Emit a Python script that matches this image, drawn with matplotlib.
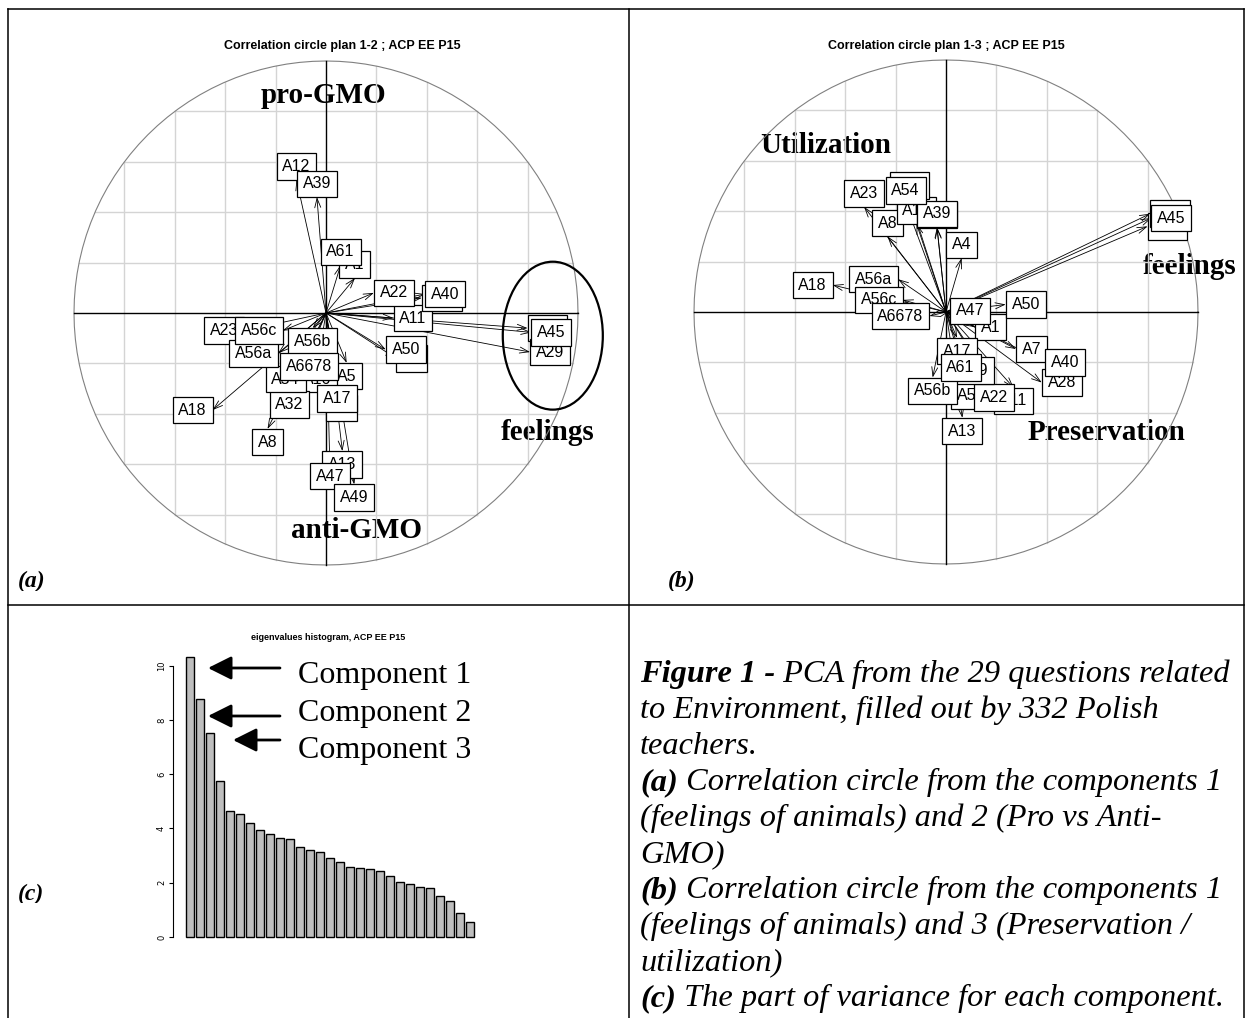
import numpy as np
import matplotlib.pyplot as plt
from matplotlib.patches import Ellipse
from matplotlib.path import Path
from matplotlib.transforms import Bbox

W, H = 1247, 1018

# questionnaire items, in the order R draws them
names = ["A1", "A4", "A5", "A7", "A8", "A10", "A11", "A12", "A13", "A16",
         "A17", "A18", "A22", "A23", "A28", "A29", "A32", "A39", "A40", "A45",
         "A47", "A49", "A50", "A54", "A56a", "A56b", "A56c", "A61", "A6678"]
# correlations of the items with components 1, 2 and 3
comp1 = [0.115, 0.062, 0.082, 0.278, -0.232, 0.80, 0.268, -0.117, 0.065, -0.035,
         0.044, -0.45, 0.19, -0.325, 0.38, 0.81, -0.145, -0.036, 0.393, 0.815,
         0.015, 0.112, 0.237, -0.16, -0.19, -0.053, -0.172, 0.058, -0.066]
comp2 = [0.139, -0.325, -0.198, -0.18, -0.46, -0.06, -0.02, 0.528, -0.548, -0.21,
         -0.286, -0.385, 0.08, -0.07, 0.06, -0.155, -0.31, 0.46, 0.075, -0.077,
         -0.595, -0.68, -0.145, -0.21, -0.16, -0.06, -0.07, 0.19, -0.16]
comp3 = [-0.06, 0.214, -0.28, -0.147, 0.30, 0.34, -0.30, 0.35, -0.42, 0.333,
         -0.103, 0.107, -0.286, 0.417, -0.28, 0.39, 0.45, 0.337, -0.20, 0.373,
         0.004, -0.18, 0.03, 0.43, 0.13, -0.26, 0.048, -0.167, -0.016]

# eigenvalues (% of variance)
eig_pct = [10.30, 8.77, 7.53, 5.76, 4.65, 4.53, 4.21, 3.94, 3.79, 3.63,
           3.60, 3.30, 3.20, 3.14, 2.90, 2.77, 2.59, 2.53, 2.49, 2.44,
           2.25, 2.04, 1.95, 1.85, 1.79, 1.51, 1.34, 0.87, 0.55]
eig_ticks = [0, 2, 4, 6, 8, 10]

caption = [
    [("Figure 1 -", "bold"), (" PCA from the 29 questions related", "normal")],
    [("to Environment, filled out by 332 Polish", "normal")],
    [("teachers.", "normal")],
    [("(a)", "bold"), (" Correlation circle from the components 1", "normal")],
    [("(feelings of animals) and 2 (Pro vs Anti-", "normal")],
    [("GMO)", "normal")],
    [("(b)", "bold"), (" Correlation circle from the components 1", "normal")],
    [("(feelings of animals) and 3 (Preservation /", "normal")],
    [("utilization)", "normal")],
    [("(c)", "bold"), (" The part of variance for each component.", "normal")],
]

SANS = "Liberation Sans"
SERIF = "Liberation Serif"
GRID = "#d4d4d4"
PADX, PADY = 0.36, 0.36

fig = plt.figure(figsize=(W / 100, H / 100), dpi=100)
bg = fig.add_axes([0, 0, 1, 1])
bg.set_xlim(0, W)
bg.set_ylim(H, 0)
bg.axis("off")


def px_axes(x0, y0, x1, y1):
    ax = fig.add_axes([x0 / W, 1 - y1 / H, (x1 - x0) / W, (y1 - y0) / H])
    ax.patch.set_visible(False)
    return ax


def label_box(x0, y0, width, height, mutation_size):
    px, py = PADX * mutation_size, PADY * mutation_size
    x0, y0 = x0 - px, y0 - py
    x1, y1 = x0 + width + 2 * px, y0 + height + 2 * py
    return Path([(x0, y0), (x1, y0), (x1, y1), (x0, y1), (x0, y0)],
                [Path.MOVETO, Path.LINETO, Path.LINETO, Path.LINETO, Path.CLOSEPOLY])


def clipped_text(x, y, s, clip, **kw):
    t = bg.text(x, y, s, **kw)
    x0, y0, x1, y1 = clip
    t.set_clip_box(Bbox.from_extents(x0, H - y1, x1, H - y0))
    t.set_clip_on(True)
    return t


def corcircle(region, cx, cy, s, xs, ys):
    x0, y0, x1, y1 = region
    ax = px_axes(x0, y0, x1, y1)
    ax.set_xlim((x0 - cx) / s, (x1 - cx) / s)
    ax.set_ylim((cy - y1) / s, (cy - y0) / s)
    ax.axis("off")
    for g in [-0.8, -0.6, -0.4, -0.2, 0.2, 0.4, 0.6, 0.8]:
        h = np.sqrt(1 - g * g)
        ax.plot([-h, h], [g, g], color=GRID, lw=1.0, zorder=1)
        ax.plot([g, g], [-h, h], color=GRID, lw=1.0, zorder=1)
    t = np.linspace(0, 2 * np.pi, 121)
    ax.plot(np.cos(t), np.sin(t), color="#808080", lw=0.8, zorder=2)
    ax.plot([-1, 1], [0, 0], color="black", lw=1.0, zorder=2)
    ax.plot([0, 0], [-1, 1], color="black", lw=1.0, zorder=2)
    for x, y in zip(xs, ys):
        ax.annotate("", xy=(x, y), xytext=(0, 0), zorder=3,
                    arrowprops=dict(arrowstyle="->,head_length=0.55,head_width=0.18",
                                    lw=0.6, color="black", shrinkA=0, shrinkB=0,
                                    mutation_scale=12))
    fs = 11.5
    dx, dy = PADX * fs, PADY * fs
    for lab, x, y in zip(names, xs, ys):
        if x > y and x > -y:
            ha, va, off = "left", "center", (dx, 0)
        elif x > y:
            ha, va, off = "center", "top", (0, -dy)
        elif x <= -y:
            ha, va, off = "right", "center", (-dx, 0)
        else:
            ha, va, off = "center", "bottom", (0, dy)
        ax.annotate(lab, xy=(x, y), xytext=off, textcoords="offset points",
                    ha=ha, va=va, fontsize=fs, family=SANS, zorder=5,
                    bbox=dict(boxstyle=label_box, fc="white", ec="black", lw=0.9))
    return ax


# panel (a): components 1-2
ax_a = corcircle((10, 11, 627, 591), 326, 313, 252, comp1, comp2)
ax_a.add_patch(Ellipse((0.90, -0.09), 0.397, 0.587, fill=False, ec="black", lw=1.6, zorder=6))
bg.text(342, 46, "Correlation circle plan 1-2 ; ACP EE P15", fontsize=9, weight="bold",
        family=SANS, ha="center", va="center")
for txt, x, y in [("pro-GMO", 323, 95), ("anti-GMO", 356, 530), ("feelings", 548, 433)]:
    bg.text(x, y, txt, fontsize=21, weight="bold", family=SERIF, ha="center", va="center", zorder=10)
clipped_text(18, 587, "(a)", (10, 11, 627, 591), fontsize=17, weight="bold", style="italic",
             family=SERIF, va="baseline")

# panel (b): components 1-3
ax_b = corcircle((631, 11, 1243, 591), 946, 312, 252, comp1, comp3)
bg.text(946, 46, "Correlation circle plan 1-3 ; ACP EE P15", fontsize=9, weight="bold",
        family=SANS, ha="center", va="center")
for txt, x, y in [("Utilization", 826, 145), ("feelings", 1190, 266), ("Preservation", 1106, 433)]:
    bg.text(x, y, txt, fontsize=21, weight="bold", family=SERIF, ha="center", va="center", zorder=10)
clipped_text(668, 587, "(b)", (631, 11, 1243, 591), fontsize=17, weight="bold", style="italic",
             family=SERIF, va="baseline")

# panel (c): eigenvalues
axc = px_axes(173, 640, 480, 945)
xb = 0.7 + 1.2 * np.arange(len(eig_pct))
axc.bar(xb, eig_pct, width=1.0, color="#bebebe", edgecolor="black", lw=1.0)
axc.set_xlim(-1.36, 35.48)
axc.set_ylim(-0.295, 10.94)
for sp in ["top", "right", "bottom"]:
    axc.spines[sp].set_visible(False)
axc.spines["left"].set_bounds(0, 10)
axc.spines["left"].set_linewidth(0.8)
axc.set_xticks([])
axc.set_yticks(eig_ticks)
axc.set_yticklabels([str(v) for v in eig_ticks])
axc.tick_params(axis="y", length=3, width=0.8, labelsize=6, labelrotation=90, pad=2)
for lab in axc.get_yticklabels():
    lab.set_va("center")
bg.text(328, 637, "eigenvalues histogram, ACP EE P15", fontsize=6.5, weight="bold",
        family=SANS, ha="center", va="center")
for i, (tip_x, ay, ty) in enumerate([(208, 668, 683), (208, 716, 721), (233, 740, 758)]):
    bg.annotate("", xy=(tip_x, ay), xytext=(280, ay),
                arrowprops=dict(arrowstyle="-|>,head_length=1.0,head_width=0.5",
                                lw=2, color="black", shrinkA=0, shrinkB=0,
                                mutation_scale=14.4))
    bg.text(298, ty, "Component %d" % (i + 1), fontsize=23, family=SERIF, va="baseline")
clipped_text(18, 900, "(c)", (10, 607, 627, 903), fontsize=17, weight="bold", style="italic",
             family=SERIF, va="baseline")

# caption
renderer = fig.canvas.get_renderer()
y = 682
for parts in caption:
    x = 640
    for txt, weight in parts:
        t = bg.text(x, y, txt, fontsize=23.3, family=SERIF, style="italic", weight=weight,
                    va="baseline", ha="left")
        x += t.get_window_extent(renderer).width
    y += 36

# table rules
lw = 1.1
bg.plot([8, 1244], [9, 9], color="black", lw=lw)
bg.plot([8, 8], [9, H], color="black", lw=lw)
bg.plot([1244, 1244], [9, H], color="black", lw=lw)
bg.plot([629, 629], [9, H], color="black", lw=lw)
bg.plot([8, 1244], [605, 605], color="black", lw=lw)

fig.savefig("out.png", dpi=100)
